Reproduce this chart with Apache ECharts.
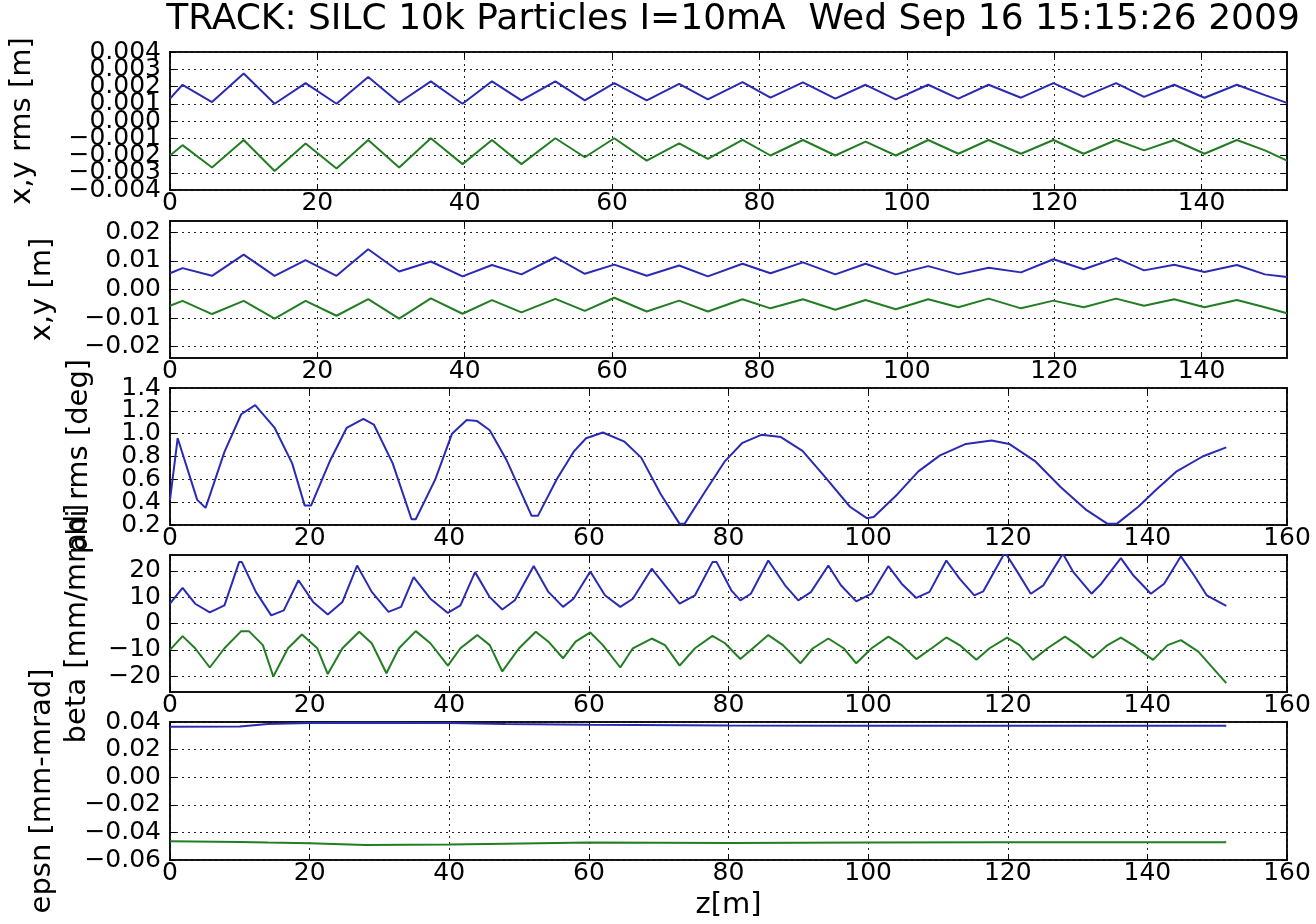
<!DOCTYPE html>
<html><head><meta charset="utf-8">
<script src="https://cdn.jsdelivr.net/npm/echarts@6/dist/echarts.min.js"></script>
<style>html,body{margin:0;padding:0;background:#fff}#c{width:1316px;height:924px}</style>
</head><body><div id="c"></div>
<script>
// ---------------- data ----------------
const TITLE = 'TRACK: SILC 10k Particles I=10mA  Wed Sep 16 15:15:26 2009';
const X_NAME = 'z[m]';
const Y_NAMES = ['x,y rms [m]', 'x,y [m]', 'phi rms [deg]', 'beta [mm/mrad]', 'epsn [mm-mrad]'];

// panel 1 & 2 : z positions (m)
const zBeam = [0, 1.7, 5.7, 10, 14.2, 18.4, 22.6, 26.9, 31.1, 35.4, 39.7, 43.7, 47.7, 52.3, 56.3, 60.3, 64.7, 69.1, 73, 77.7,
  81.5, 85.9, 90.3, 94.4, 98.5, 102.9, 107, 111.1, 115.5, 119.9, 124, 128.4, 132.2, 136.3, 140.4, 144.8, 148.6, 151.6];
// panel 1 : x rms (blue), -y rms (green)
const xRms = [0.0013, 0.0021, 0.0011, 0.00275, 0.001, 0.0022, 0.001, 0.00255, 0.00106, 0.0023, 0.001, 0.0023, 0.0012, 0.0023, 0.0012, 0.0022, 0.0012, 0.00215, 0.00125, 0.00225,
  0.00135, 0.00224, 0.0013, 0.0021, 0.00125, 0.0021, 0.0013, 0.0021, 0.00135, 0.0022, 0.0014, 0.0022, 0.0014, 0.0021, 0.00135, 0.0021, 0.0015, 0.00105];
const yRms = [-0.002, -0.0014, -0.0027, -0.0011, -0.0029, -0.0013, -0.00275, -0.0011, -0.0027, -0.001, -0.0025, -0.0011, -0.0025, -0.001, -0.0021, -0.001, -0.0023, -0.0013, -0.0022, -0.0011,
  -0.002, -0.0011, -0.002, -0.0012, -0.002, -0.0011, -0.0019, -0.0011, -0.0019, -0.0011, -0.0019, -0.0011, -0.0017, -0.0011, -0.0019, -0.0011, -0.0017, -0.0023];
// panel 2 : x (blue), y (green)
const xCen = [0.0057, 0.0075, 0.0048, 0.0122, 0.0048, 0.0103, 0.0048, 0.0141, 0.0063, 0.0098, 0.0046, 0.0086, 0.0053, 0.0113, 0.0055, 0.0087, 0.0048, 0.0084, 0.0046, 0.009,
  0.0057, 0.0095, 0.0053, 0.009, 0.0053, 0.0082, 0.0053, 0.0076, 0.006, 0.0106, 0.0071, 0.011, 0.0067, 0.0087, 0.0061, 0.0086, 0.0053, 0.0044];
const yCen = [-0.0057, -0.004, -0.0086, -0.004, -0.0102, -0.004, -0.0092, -0.0034, -0.0102, -0.0031, -0.0085, -0.0037, -0.008, -0.0033, -0.0075, -0.0029, -0.0077, -0.0039, -0.0077, -0.0034,
  -0.0066, -0.0034, -0.0071, -0.0037, -0.0069, -0.0034, -0.0062, -0.0032, -0.0066, -0.0039, -0.0062, -0.0032, -0.0057, -0.0034, -0.0062, -0.0037, -0.0062, -0.0083];
// panel 3 : phi rms
const zPhi = [0, 1.1, 3.9, 5.1, 7.8, 10.2, 12.2, 15, 17.5, 19.3, 20.2, 22.9, 25.3, 27.7, 29.2, 31.9, 34.6, 35.2, 38, 40.4,
  42.5, 44, 45.8, 48.2, 51.8, 52.7, 55.4, 57.8, 59.6, 62, 65.1, 67.5, 70.3, 73, 73.7, 76.4, 79.5, 82, 84.7, 87.5,
  90.6, 93.7, 97.4, 99.8, 100.8, 104.2, 107.2, 110.3, 114, 117.7, 120.2, 123.9, 127.6, 131.3, 134.3, 135.6, 138.7, 141.1, 144.2, 147.9, 151.3];
const phiRms = [0.42, 0.96, 0.42, 0.35, 0.84, 1.17, 1.25, 1.05, 0.74, 0.37, 0.37, 0.76, 1.05, 1.13, 1.08, 0.74, 0.25, 0.25, 0.6, 1.0,
  1.12, 1.11, 1.03, 0.77, 0.28, 0.28, 0.6, 0.84, 0.96, 1.01, 0.93, 0.79, 0.47, 0.21, 0.21, 0.47, 0.76, 0.92, 0.99, 0.97,
  0.85, 0.63, 0.36, 0.26, 0.27, 0.47, 0.67, 0.81, 0.91, 0.94, 0.91, 0.76, 0.53, 0.33, 0.21, 0.21, 0.36, 0.5, 0.67, 0.8, 0.88];
// panel 4 : beta x (blue), -beta y (green)
const zBetaX = [0, 1.8, 3.6, 5.7, 7.8, 9.9, 10.3, 12.3, 14.5, 16.3, 18.4, 20.5, 22.6, 24.7, 26.8, 28.9, 31.3, 33.1, 34.9, 37.3,
  39.8, 41.6, 43.7, 45.8, 47.6, 49.4, 52.1, 54.2, 56.3, 57.8, 60.2, 62.3, 64.5, 66.3, 69, 70.9, 73, 75.2, 77.7, 78.3,
  80.4, 81.7, 83.2, 85.7, 88.1, 90, 91.8, 94.3, 96.1, 98.3, 100.5, 102.9, 104.8, 106.9, 108.8, 111.2, 113.1, 115.2, 116.5, 119.6,
  121.4, 123.3, 125.1, 127.9, 129.4, 132, 133.4, 136.2, 138, 140.5, 142.4, 144.8, 146.7, 148.5, 151.3];
const betaX = [7.5, 13.5, 7.5, 4.2, 6.9, 23.3, 23.3, 12, 3.1, 5, 16.4, 8.2, 3.4, 8.2, 22, 12, 4.4, 6.3, 17.6, 9.4,
  4, 6.9, 19.5, 10, 5.3, 8.8, 21.8, 12, 6.3, 9.4, 19.7, 10.7, 6.3, 9.4, 20.8, 14.5, 7.5, 10.7, 23.3, 23.3,
  12.6, 8.8, 11.3, 23.9, 14.5, 8.8, 11.9, 22, 14.5, 8.4, 11.3, 21.8, 15.1, 9.7, 12, 23.9, 17, 10.7, 12.2, 27,
  19.5, 11.3, 14.5, 26.5, 19.5, 11.3, 15.1, 24.8, 18.2, 11.3, 15.1, 25.5, 18.2, 10.7, 6.7];
const zBetaY = [0, 1.8, 3.6, 5.7, 7.8, 10.2, 11.3, 13.3, 14.8, 16.9, 18.9, 21.1, 22.6, 24.7, 27.1, 28.9, 31, 32.8, 35.2, 37.3,
  39.8, 41.6, 44, 45.8, 47.6, 50, 52.4, 54.2, 56.3, 58.1, 60.2, 62, 64.5, 66.3, 69, 70.9, 73, 75.2, 77.7, 79.5,
  81.7, 83.5, 85.7, 87.8, 90.3, 92.1, 94.3, 96.5, 98.3, 100.5, 102.9, 104.8, 106.9, 109.1, 111.2, 113.1, 115.5, 117.4, 119.9, 121.7,
  123.6, 125.7, 128.2, 130, 132.2, 134.3, 136.2, 138.3, 140.8, 142.9, 144.8, 147.3, 151.3];
const betaY = [-10, -4.8, -9.4, -16.7, -9.4, -2.9, -2.9, -8.2, -20.1, -9.4, -4.2, -9.4, -19.2, -9.4, -3.1, -7.5, -18.9, -9.4, -2.9, -7.5,
  -16, -9.4, -4.4, -8.2, -18.2, -9.4, -3.1, -6.9, -13.2, -6.9, -3.4, -8.2, -16.7, -9.4, -5.7, -8.2, -16, -9.4, -4.7, -7.5,
  -13.5, -9.4, -4.4, -8.2, -15.1, -9.4, -5.7, -9.4, -15.1, -9.4, -5, -8.2, -13.5, -9.4, -5.3, -8.2, -13.8, -9.4, -5.4, -8.2,
  -13.8, -9.4, -5, -8.2, -13, -8.2, -5.4, -8.8, -13.8, -8.2, -6.3, -10.7, -22.6];
// panel 5 : normalized emittance x (blue), -y (green)
const zEps = [0, 10, 14, 20, 28, 40, 48, 60, 80, 100, 120, 140, 151.3];
const epsX = [0.0365, 0.0368, 0.0385, 0.0392, 0.0394, 0.0393, 0.0385, 0.038, 0.0375, 0.0373, 0.0372, 0.0372, 0.0372];
const epsY = [-0.0465, -0.047, -0.0474, -0.0478, -0.0492, -0.0487, -0.0482, -0.0474, -0.0476, -0.0473, -0.0472, -0.0472, -0.0472];

// tick values
const xTicksA = [0, 20, 40, 60, 80, 100, 120, 140];
const xTicksB = [0, 20, 40, 60, 80, 100, 120, 140, 160];
const yTicks1 = [-0.004, -0.003, -0.002, -0.001, 0, 0.001, 0.002, 0.003, 0.004];
const yTicks2 = [-0.02, -0.01, 0, 0.01, 0.02];
const yTicks3 = [0.2, 0.4, 0.6, 0.8, 1.0, 1.2, 1.4];
const yTicks4 = [-20, -10, 0, 10, 20];
const yTicks5 = [-0.06, -0.04, -0.02, 0, 0.02, 0.04];

// ---------------- layout / style ----------------
const BLUE = '#2a2ab4', GREEN = '#237d23';
const FONT = 'DejaVu Sans';
const TICK_FS = 25, NAME_FS = 29;
const LEFT = 170, RIGHT = 29;
const pairs = (xs, ys) => xs.map((x, i) => [x, ys[i]]);
const fmt = d => v => { const s = Math.abs(v).toFixed(d); return (v < -1e-12 ? '\u2212' : '') + s; };

const panels = [
  { top: 52, h: 138, xmax: zBeam[zBeam.length - 1], xt: xTicksA, ymin: -0.004, ymax: 0.004, yt: yTicks1, dec: 3, gap: 133,
    lines: [[zBeam, xRms, BLUE], [zBeam, yRms, GREEN]] },
  { top: 221, h: 137, xmax: zBeam[zBeam.length - 1], xt: xTicksA, ymin: -0.024, ymax: 0.024, yt: yTicks2, dec: 2, gap: 113,
    lines: [[zBeam, xCen, BLUE], [zBeam, yCen, GREEN]] },
  { top: 388, h: 137, xmax: 160, xt: xTicksB, ymin: 0.2, ymax: 1.4, yt: yTicks3, dec: 1, gap: 76,
    lines: [[zPhi, phiRms, BLUE]] },
  { top: 555, h: 137, xmax: 160, xt: xTicksB, ymin: -26, ymax: 26, yt: yTicks4, dec: 0, gap: 78,
    lines: [[zBetaX, betaX, BLUE], [zBetaY, betaY, GREEN]] },
  { top: 722, h: 138, xmax: 160, xt: xTicksB, ymin: -0.06, ymax: 0.04, yt: yTicks5, dec: 2, gap: 113,
    lines: [[zEps, epsX, BLUE], [zEps, epsY, GREEN]] }
];

const grid = [], xAxis = [], yAxis = [], series = [];
const tickStyle = { lineStyle: { color: '#000', width: 1 } };
const gridLine = { show: true, lineStyle: { color: '#222', width: 1, type: [2, 4] } };
const labelStyle = { color: '#000', fontFamily: FONT, fontSize: TICK_FS, showMinLabel: true, showMaxLabel: true, hideOverlap: false };
const nameStyle = { color: '#000', fontFamily: FONT, fontSize: NAME_FS };
const noLine = { show: false, onZero: false };

panels.forEach((p, i) => {
  // matplotlib draws every tick label even when they collide: split them in two
  // interleaved label sets so that none gets dropped.
  const evenLabels = p.yt.filter((_, k) => k % 2 === 0);
  const oddLabels = p.yt.filter((_, k) => k % 2 === 1);
  grid.push({ left: LEFT, right: RIGHT, top: p.top, height: p.h, show: true, borderColor: '#111', borderWidth: 2, backgroundColor: 'transparent' });
  xAxis.push({
    type: 'value', gridIndex: i, position: 'bottom', min: 0, max: p.xmax,
    axisLine: noLine,
    axisTick: Object.assign({ show: true, inside: true, length: 6, customValues: p.xt }, tickStyle),
    axisLabel: Object.assign({ show: true, margin: 1, customValues: p.xt, formatter: v => String(Math.round(v)) }, labelStyle),
    splitLine: gridLine,
    name: i === 4 ? X_NAME : '', nameLocation: 'middle', nameGap: 31, nameTextStyle: nameStyle
  });
  xAxis.push({
    type: 'value', gridIndex: i, position: 'top', min: 0, max: p.xmax,
    axisLine: noLine,
    axisTick: Object.assign({ show: true, inside: true, length: 6, customValues: p.xt }, tickStyle),
    axisLabel: { show: false }, splitLine: { show: false }
  });
  yAxis.push({
    type: 'value', gridIndex: i, position: 'left', min: p.ymin, max: p.ymax,
    axisLine: noLine,
    axisTick: Object.assign({ show: true, inside: true, length: 6, customValues: p.yt }, tickStyle),
    axisLabel: Object.assign({ show: true, margin: 9, customValues: evenLabels, formatter: fmt(p.dec) }, labelStyle),
    splitLine: gridLine,
    name: Y_NAMES[i], nameLocation: 'middle', nameGap: p.gap, nameRotate: 90, nameTextStyle: nameStyle
  });
  yAxis.push({
    type: 'value', gridIndex: i, position: 'left', offset: 0, min: p.ymin, max: p.ymax,
    axisLine: noLine,
    axisTick: { show: false },
    axisLabel: Object.assign({ show: true, margin: 9, customValues: oddLabels, formatter: fmt(p.dec) }, labelStyle),
    splitLine: { show: false }
  });
  yAxis.push({
    type: 'value', gridIndex: i, position: 'right', min: p.ymin, max: p.ymax,
    axisLine: noLine,
    axisTick: Object.assign({ show: true, inside: true, length: 6, customValues: p.yt }, tickStyle),
    axisLabel: { show: false }, splitLine: { show: false }
  });
  p.lines.forEach(([xs, ys, c]) => {
    series.push({
      type: 'line', xAxisIndex: 2 * i, yAxisIndex: 3 * i, data: pairs(xs, ys),
      showSymbol: false, symbol: 'none', clip: true, smooth: false,
      lineStyle: { color: c, width: 2 }, itemStyle: { color: c }, z: 3
    });
  });
});

const chart = echarts.init(document.getElementById('c'), null, { renderer: 'canvas' });
chart.setOption({
  animation: false,
  backgroundColor: '#fff',
  title: { text: TITLE, left: 728, top: -3, textAlign: 'center',
    textStyle: { color: '#000', fontFamily: FONT, fontSize: 36, fontWeight: 'normal' } },
  grid, xAxis, yAxis, series
});
</script></body></html>
